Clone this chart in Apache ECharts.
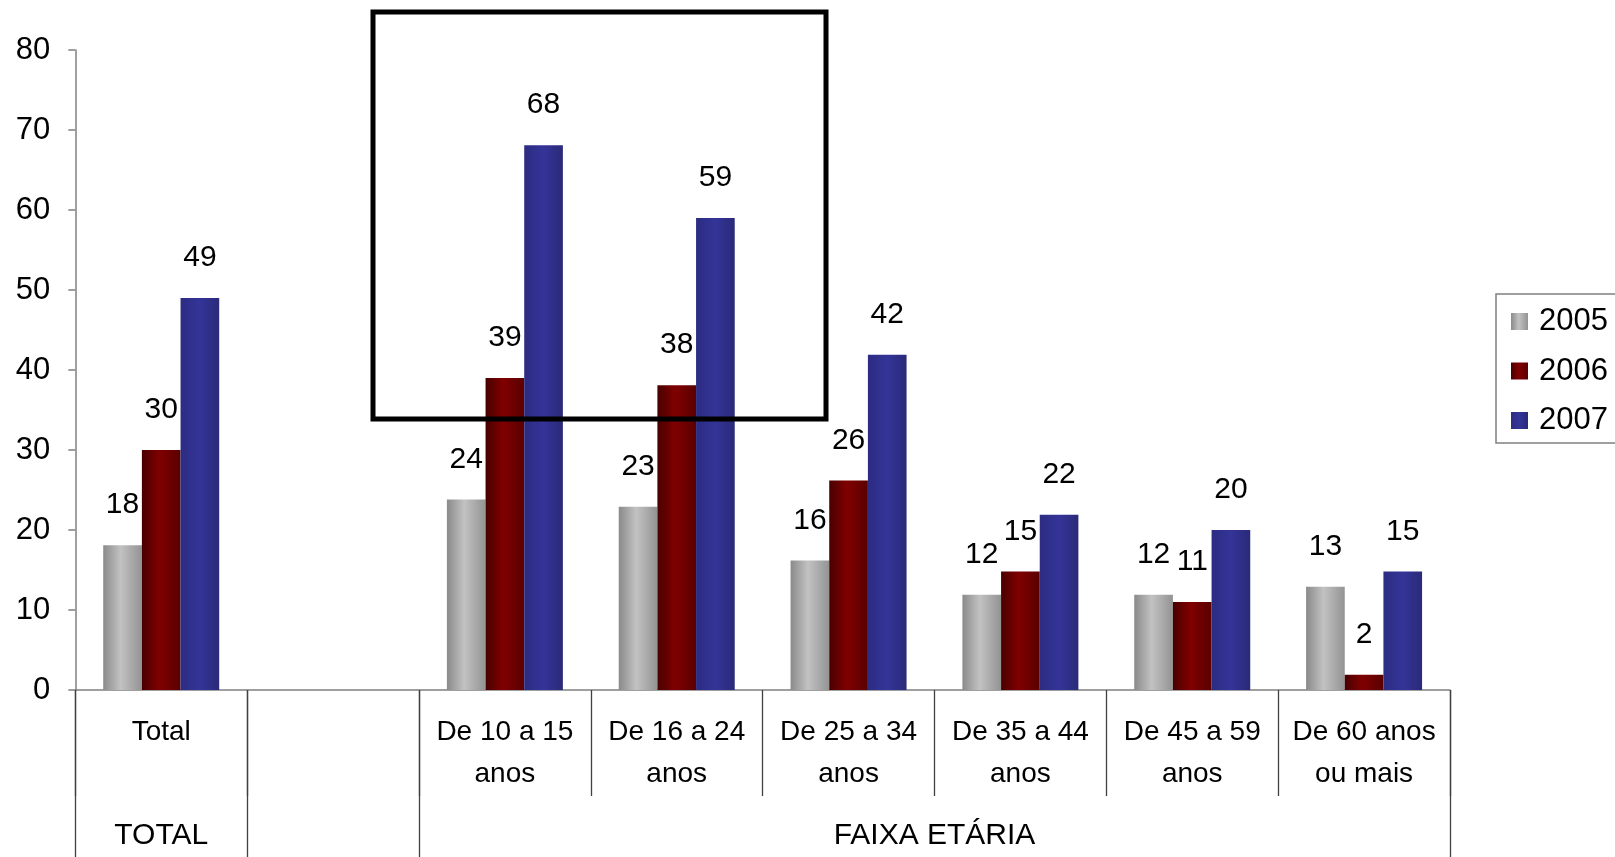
<!DOCTYPE html>
<html>
<head>
<meta charset="utf-8">
<script src="https://cdn.jsdelivr.net/npm/echarts@6/dist/echarts.min.js"></script>
<style>
  html, body { margin: 0; padding: 0; background: #fff; }
  #chart { width: 1615px; height: 857px; }
</style>
</head>
<body>
<div id="chart"></div>
<script>
// ---- data ----
var categories = ['Total', '', 'De 10 a 15\nanos', 'De 16 a 24\nanos', 'De 25 a 34\nanos', 'De 35 a 44\nanos', 'De 45 a 59\nanos', 'De 60 anos\nou mais'];
var seriesNames = ['2005', '2006', '2007'];
var values2005 = [18.1, null, 23.8, 22.9, 16.2, 11.9, 11.9, 12.9];
var values2006 = [30, null, 39, 38.1, 26.2, 14.8, 11, 1.9];
var values2007 = [49, null, 68.1, 59, 41.9, 21.9, 20, 14.8];
var groupLabels = ['TOTAL', 'FAIXA ETÁRIA'];
var groupCenters = [0.5, 5];        // positions on the group axis (category units)
var groupBoundaries = [0, 1, 2, 8]; // long separators (category units)
var yTicks = [0, 10, 20, 30, 40, 50, 60, 70, 80];

var FONT = 'Liberation Sans, Arial, sans-serif';

function grad(stops) {
  return { type: 'linear', x: 0, y: 0, x2: 1, y2: 0,
    colorStops: stops.map(function (s) { return { offset: s[0], color: s[1] }; }) };
}
var colors = [
  grad([[0, '#8a8a8a'], [0.45, '#c2c2c2'], [1, '#939393']]),
  grad([[0, '#480000'], [0.45, '#800000'], [1, '#5a0000']]),
  grad([[0, '#2c2c82'], [0.5, '#343499'], [1, '#2a2a78']])
];
var allValues = [values2005, values2006, values2007];

var chart = echarts.init(document.getElementById('chart'), null, { renderer: 'canvas' });

var series = seriesNames.map(function (name, i) {
  return {
    name: name,
    type: 'bar',
    xAxisIndex: 0,
    yAxisIndex: 0,
    data: allValues[i],
    barGap: '0%',
    barCategoryGap: '32.5%',
    itemStyle: { color: colors[i] },
    label: {
      show: true,
      position: 'top',
      distance: 25,
      fontFamily: FONT,
      fontSize: 30,
      color: '#000',
      formatter: function (p) { return p.value == null ? '' : String(Math.round(p.value)); }
    },
    emphasis: { disabled: true }
  };
});

var option = {
  animation: false,
  backgroundColor: '#ffffff',
  textStyle: { fontFamily: FONT },
  grid: { left: 75.3, right: 165, top: 50, bottom: 167, containLabel: false },
  legend: {
    orient: 'vertical',
    left: 1496,
    top: 294,
    data: seriesNames,
    icon: 'rect',
    itemWidth: 17,
    itemHeight: 17,
    itemGap: 18.5,
    padding: [12, 60, 7, 15],
    borderColor: '#808080',
    borderWidth: 1.5,
    backgroundColor: '#fff',
    textStyle: { fontFamily: FONT, fontSize: 31, color: '#000', padding: [0, 0, 0, 6] }
  },
  xAxis: [
    {
      type: 'category',
      data: categories,
      position: 'bottom',
      boundaryGap: true,
      axisLine: { show: true, lineStyle: { color: '#808080', width: 1.5 } },
      axisTick: { show: true, interval: 0, length: 106, lineStyle: { color: '#404040', width: 1.3 } },
      axisLabel: { interval: 0, margin: 21, fontFamily: FONT, fontSize: 28, lineHeight: 42, color: '#000' },
      splitLine: { show: false }
    },
    {
      type: 'value',
      min: 0,
      max: 8,
      position: 'bottom',
      offset: 0,
      axisLine: { show: false },
      axisTick: { show: true, customValues: groupBoundaries, length: 167, lineStyle: { color: '#404040', width: 1.3 } },
      axisLabel: {
        show: true,
        customValues: groupCenters,
        margin: 131,
        fontFamily: FONT,
        fontSize: 30,
        color: '#000',
        formatter: function (v) {
          var idx = groupCenters.indexOf(v);
          return idx >= 0 ? groupLabels[idx] : '';
        }
      },
      splitLine: { show: false }
    }
  ],
  yAxis: {
    type: 'value',
    min: yTicks[0],
    max: yTicks[yTicks.length - 1],
    interval: 10,
    axisLine: { show: true, lineStyle: { color: '#808080', width: 1.5 } },
    axisTick: { show: true, inside: false, length: 7, lineStyle: { color: '#808080', width: 1.5 } },
    axisLabel: { margin: 25, fontFamily: FONT, fontSize: 31, color: '#000' },
    splitLine: { show: false }
  },
  series: series,
  graphic: [
    {
      type: 'rect',
      z: 100,
      shape: { x: 373, y: 12, width: 453, height: 407 },
      style: { fill: 'none', stroke: '#000', lineWidth: 5 }
    }
  ]
};

chart.setOption(option);
</script>
</body>
</html>
